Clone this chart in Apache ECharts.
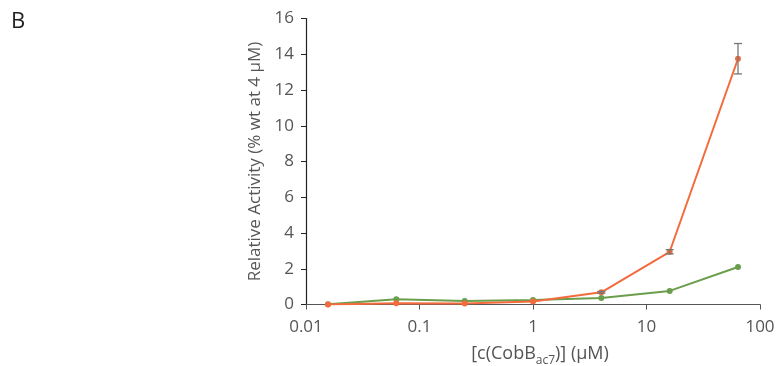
<!DOCTYPE html>
<html>
<head>
<meta charset="utf-8">
<script src="https://cdn.jsdelivr.net/npm/echarts@6/dist/echarts.min.js"></script>
<style>html,body{margin:0;padding:0;background:#fff;overflow:hidden;}#c{width:776px;height:366px;}</style>
</head>
<body>
<div id="c"></div>
<script>
const concentrations = [0.015625, 0.0625, 0.25, 1, 4, 16, 64];
const orangeValues = [0.0, 0.07, 0.06, 0.17, 0.68, 2.95, 13.75];
const orangeErrors = [0.0, 0.0, 0.0, 0.0, 0.05, 0.12, 0.85];
const greenValues = [0.02, 0.3, 0.2, 0.25, 0.36, 0.76, 2.1];
const xTickLabels = ['0.01', '0.1', '1', '10', '100'];
const yTicks = [0, 2, 4, 6, 8, 10, 12, 14, 16];

const orangeColor = '#f36b3d';
const greenColor = '#6b9e4c';
const fontFam = '"Open Sans", "Noto Sans", sans-serif';

const chart = echarts.init(document.getElementById('c'), null, {width: 776, height: 366});
const pair = (vals) => concentrations.map((x, i) => [x, vals[i]]);
const errData = concentrations.map((x, i) => [x, orangeValues[i] - orangeErrors[i], orangeValues[i] + orangeErrors[i]]);

chart.setOption({
  animation: false,
  backgroundColor: '#fff',
  graphic: [
    {type: 'text', left: 11, top: 11, style: {text: 'B', fontSize: 22, fill: '#222', fontFamily: fontFam}}
  ],
  grid: {left: 306, width: 454, top: 18.5, height: 286, containLabel: false, outerBoundsMode: 'none'},
  xAxis: {
    type: 'log', logBase: 10, min: 0.01, max: 100,
    axisLine: {lineStyle: {color: '#555', width: 1.2}},
    axisTick: {show: true, inside: false, length: 5, lineStyle: {color: '#555'}},
    minorTick: {show: false},
    splitLine: {show: false},
    axisLabel: {color: '#555', fontSize: 17, fontFamily: fontFam, margin: 14,
      formatter: (v) => { const idx = Math.round(Math.log10(v)) + 2; return xTickLabels[idx] !== undefined ? xTickLabels[idx] : ''; }},
    name: '[c(CobB{sub|ac7})] (µM)',
    nameLocation: 'middle', nameGap: 36,
    nameTextStyle: {color: '#555', fontSize: 18, fontFamily: fontFam, padding: [0, 0, 0, 14],
      rich: {sub: {fontSize: 12, color: '#555', fontFamily: fontFam, padding: [14, 0, 0, 0]}}}
  },
  yAxis: {
    type: 'value', min: 0, max: 16, interval: 2,
    axisLine: {show: true, lineStyle: {color: '#222', width: 1.2}},
    axisTick: {show: true, inside: false, length: 5, lineStyle: {color: '#222'}},
    splitLine: {show: false},
    axisLabel: {color: '#555', fontSize: 17, fontFamily: fontFam, margin: 12,
      formatter: (v) => yTicks.indexOf(v) >= 0 ? String(v) : ''},
    name: 'Relative Activity (% wt at 4 µM)',
    nameLocation: 'middle', nameGap: 35,
    nameTextStyle: {color: '#555', fontSize: 17, fontFamily: fontFam}
  },
  series: [
    {
      type: 'line', data: pair(greenValues), symbol: 'circle', symbolSize: 6,
      itemStyle: {color: greenColor}, lineStyle: {color: greenColor, width: 2}, z: 3
    },
    {
      type: 'line', data: pair(orangeValues), symbol: 'circle', symbolSize: 6,
      itemStyle: {color: orangeColor}, lineStyle: {color: orangeColor, width: 2}, z: 4
    },
    {
      type: 'custom', z: 5,
      data: errData,
      renderItem: (params, api) => {
        const lo = api.coord([api.value(0), api.value(1)]);
        const hi = api.coord([api.value(0), api.value(2)]);
        if (Math.abs(hi[1] - lo[1]) < 1) return null;
        const w = 4;
        const st = {stroke: '#777', lineWidth: 1.3};
        return {type: 'group', children: [
          {type: 'line', shape: {x1: lo[0], y1: lo[1], x2: hi[0], y2: hi[1]}, style: st},
          {type: 'line', shape: {x1: lo[0] - w, y1: lo[1], x2: lo[0] + w, y2: lo[1]}, style: st},
          {type: 'line', shape: {x1: hi[0] - w, y1: hi[1], x2: hi[0] + w, y2: hi[1]}, style: st}
        ]};
      }
    }
  ]
});
</script>
</body>
</html>
